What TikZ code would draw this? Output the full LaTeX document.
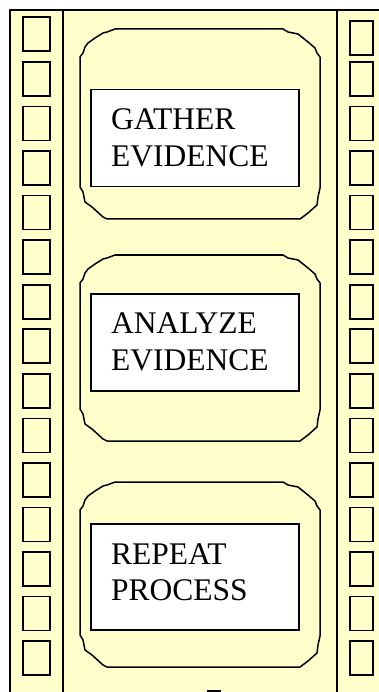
\documentclass[tikz,border=0pt]{standalone}
\usepackage{fontspec}
\setmainfont{Liberation Serif}
\definecolor{filmyellow}{RGB}{255,255,204}
\tikzset{
  filmline/.style={line width=2pt, draw=black},
  hole/.style={line width=1.6pt, draw=black},
  octa/.style={line width=1.5pt, draw=black, line join=round},
  whitebox/.style={draw=black, line width=1.5pt, fill=white, anchor=north west, inner sep=0pt, minimum width=208pt, minimum height=97pt},
  lbl/.style={anchor=base west, inner sep=0pt, font=\fontsize{31.5}{37}\selectfont},
}
\newcommand\filmoct[2]{%
  \draw[octa] (80,{#1+28}) -- (83,{#1+24}) -- (85,{#1+18}) -- (88,{#1+14}) -- (95,{#1+9}) -- (103,{#1+4}) -- (107,{#1+3}) -- (115,#1)
   -- (283,#1) -- (288,{#1+3}) -- (298,{#1+5}) -- (308,{#1+13}) -- (315,{#1+19}) -- (317,{#1+24}) -- (320,{#1+28})
   -- (320,{#2-31}) -- (318,{#2-22}) -- (317,{#2-14}) -- (308,{#2-6}) -- (300,#2)
   -- (107,#2) -- (103,{#2-2}) -- (92,{#2-12}) -- (85,{#2-17}) -- (83,{#2-27}) -- (80,{#2-32}) -- cycle;}
\begin{document}
\begin{tikzpicture}[x=1pt,y=-1pt]
\useasboundingbox (0,0) rectangle (379,692);
% film strip
\fill[filmyellow] (10,10) rectangle (390,700);
\draw[filmline] (10,705) -- (10,10) -- (390,10);
\draw[filmline] (63,10) -- (63,705);
\draw[filmline] (337,10) -- (337,705);
% sprocket holes
\draw[hole] (23,17) rectangle (50,51);
\draw[hole] (350,21) rectangle (373,55);
\foreach \k in {1,...,14} {
  \draw[hole] (23,{62+44.54*(\k-1)}) rectangle (50,{96+44.54*(\k-1)});
  \draw[hole] (350,{62+44.54*(\k-1)}) rectangle (373,{96+44.54*(\k-1)});
}
% frames
\filmoct{29}{219}
\filmoct{255}{441}
\filmoct{482}{667}
% boxes
\node[whitebox] (b1) at (90,89) {};
\node[whitebox] (b2) at (90,293) {};
\node[whitebox, minimum height=106pt] (b3) at (90,523) {};
\node[lbl] (t1a) at (111,130) {GATHER};
\node[lbl] (t1b) at (111,167) {EVIDENCE};
\node[lbl] (t2a) at (111,333) {ANALYZE};
\node[lbl] (t2b) at (111,370) {EVIDENCE};
\node[lbl] (t3a) at (111,564) {REPEAT};
\node[lbl] (t3b) at (111,600) {PROCESS};
% cut-off mark at the bottom
\fill[black] (207,689.5) rectangle (221,693);
\end{tikzpicture}
\end{document}
